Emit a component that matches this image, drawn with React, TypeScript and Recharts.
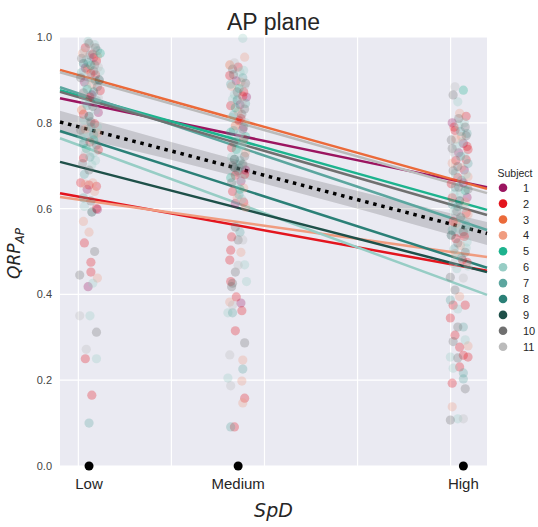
import React from 'react';
import {
  ComposedChart,
  Scatter,
  Line,
  Area,
  XAxis,
  YAxis,
  CartesianGrid,
} from 'recharts';

const SANS = '"Liberation Sans", Arial, sans-serif';
const MATH = '"DejaVu Sans", sans-serif';
const INK = '#262626';

const subjects = ['1', '2', '3', '4', '5', '6', '7', '8', '9', '10', '11'];
const subjectColors = [
  '#9b1560', '#e3151e', '#eb6a3a', '#f09c80', '#1db38e', '#97cdc5',
  '#5ca69f', '#2b8077', '#1e5049', '#707070', '#bbbbbb',
];
// fitted value of each subject's line at the left and right edge of the axis
const lineStart = [0.857, 0.636, 0.923, 0.627, 0.876, 0.764, 0.883, 0.781, 0.709, 0.872, 0.918];
const lineEnd = [0.650, 0.455, 0.646, 0.487, 0.597, 0.399, 0.550, 0.462, 0.452, 0.585, 0.636];

const categories = ['Low', 'Medium', 'High'];
const categoryX = [1.115, 2.717, 5.137];
const xDomain: [number, number] = [0.803, 5.391];
const gridX = [1, 2, 3, 4, 5];
const yTicks = [0, 0.2, 0.4, 0.6, 0.8, 1.0];

const meanStart = 0.802;
const meanEnd = 0.542;
const bandX = [0.803, 1.9, 3.0, 4.1, 5.391];
const bandLow = [0.776, 0.719, 0.658, 0.594, 0.515];
const bandHigh = [0.828, 0.761, 0.696, 0.636, 0.569];

// [jitter, QRP, subject]
const lowPoints: [number, number, number][] = [
  [0.00, 0.985, 10], [0.06, 0.982, 6], [-0.04, 0.975, 2], [0.03, 0.972, 11], [0.09, 0.968, 7],
  [-0.07, 0.962, 4], [0.01, 0.958, 10], [0.05, 0.952, 1], [-0.03, 0.947, 6], [0.08, 0.944, 2],
  [-0.06, 0.938, 8], [0.02, 0.934, 5], [0.10, 0.930, 11], [-0.02, 0.925, 3], [0.05, 0.921, 10],
  [-0.08, 0.917, 7], [0.07, 0.912, 2], [0.00, 0.905, 6], [0.11, 0.900, 9], [-0.05, 0.895, 1],
  [0.03, 0.889, 4], [0.09, 0.884, 10], [-0.02, 0.878, 5], [0.05, 0.872, 8], [-0.07, 0.866, 11],
  [0.01, 0.860, 2], [0.08, 0.852, 7], [-0.04, 0.846, 6], [0.04, 0.838, 10], [-0.08, 0.830, 3],
  [0.10, 0.824, 1], [0.00, 0.815, 9], [-0.05, 0.806, 6], [0.06, 0.798, 2], [0.02, 0.790, 7],
  [-0.09, 0.783, 10], [0.09, 0.776, 4], [-0.02, 0.768, 6], [0.05, 0.760, 5], [-0.06, 0.752, 8],
  [0.03, 0.745, 6], [0.10, 0.737, 2], [-0.04, 0.728, 11], [0.01, 0.720, 7], [0.07, 0.712, 6],
  [-0.07, 0.705, 10], [-0.01, 0.990, 6], [0.07, 0.975, 10], [-0.05, 0.968, 11], [0.12, 0.962, 5],
  [0.04, 0.960, 2], [-0.08, 0.950, 10], [0.09, 0.955, 4], [-0.01, 0.940, 7], [0.06, 0.935, 10],
  [-0.04, 0.928, 1], [0.12, 0.920, 6], [0.02, 0.915, 2], [-0.09, 0.905, 10], [0.07, 0.898, 7],
  [-0.03, 0.888, 6], [0.12, 0.875, 2], [-0.06, 0.870, 10], [0.03, 0.865, 1], [0.10, 0.858, 11],
  [-0.02, 0.840, 7], [0.07, 0.830, 6], [-0.06, 0.820, 2], [0.02, 0.802, 10], [0.09, 0.790, 6],
  [-0.04, 0.785, 4], [0.05, 0.773, 7], [-0.08, 0.765, 6], [0.01, 0.755, 2], [0.08, 0.748, 10],
  [-0.03, 0.740, 5], [0.05, 0.730, 6], [-0.06, 0.718, 2], [0.03, 0.702, 6], [0.00, 0.690, 10],
  [-0.05, 0.680, 7], [-0.09, 0.660, 2], [-0.04, 0.657, 4], [0.00, 0.655, 2], [0.04, 0.660, 4],
  [0.08, 0.652, 2], [-0.02, 0.645, 1], [0.06, 0.640, 4], [-0.06, 0.625, 7], [0.02, 0.618, 10],
  [-0.05, 0.605, 6], [0.08, 0.600, 2], [0.03, 0.592, 9], [0.09, 0.598, 1], [-0.06, 0.570, 4],
  [0.00, 0.545, 4], [-0.05, 0.520, 2], [0.06, 0.500, 10], [0.02, 0.475, 2], [-0.10, 0.445, 10],
  [0.02, 0.452, 2], [0.09, 0.438, 4], [0.04, 0.426, 6], [-0.01, 0.418, 1], [-0.10, 0.350, 11],
  [0.01, 0.350, 6], [0.08, 0.312, 10], [-0.03, 0.272, 11], [-0.04, 0.250, 2], [0.08, 0.250, 6],
  [0.03, 0.165, 2], [0.00, 0.100, 7],
];

const mediumPoints: [number, number, number][] = [
  [0.05, 0.997, 6], [0.07, 0.953, 4], [-0.09, 0.935, 3], [-0.04, 0.940, 11], [-0.06, 0.925, 10],
  [0.02, 0.918, 6], [-0.09, 0.910, 2], [0.05, 0.905, 7], [-0.02, 0.898, 1], [0.08, 0.892, 10],
  [-0.07, 0.885, 4], [0.01, 0.880, 5], [0.06, 0.872, 2], [-0.04, 0.866, 6], [0.09, 0.860, 1],
  [-0.01, 0.853, 8], [0.04, 0.846, 11], [-0.08, 0.840, 2], [0.07, 0.832, 10], [0.00, 0.826, 4],
  [-0.05, 0.818, 7], [0.03, 0.810, 2], [0.08, 0.800, 6], [-0.03, 0.793, 3], [0.05, 0.785, 1],
  [-0.08, 0.778, 5], [0.01, 0.770, 6], [0.06, 0.762, 2], [-0.05, 0.754, 10], [0.03, 0.746, 6],
  [-0.02, 0.738, 5], [0.08, 0.730, 4], [-0.07, 0.720, 6], [0.02, 0.712, 7], [0.05, 0.703, 10],
  [-0.04, 0.696, 9], [0.00, 0.688, 10], [0.07, 0.680, 2], [-0.08, 0.672, 5], [0.03, 0.664, 1],
  [-0.02, 0.655, 6], [0.06, 0.648, 4], [-0.06, 0.640, 2], [0.01, 0.632, 7], [0.04, 0.622, 6],
  [-0.03, 0.612, 1], [0.00, 0.930, 2], [0.06, 0.922, 6], [-0.05, 0.912, 10], [0.03, 0.895, 4],
  [-0.08, 0.890, 7], [0.07, 0.885, 11], [-0.01, 0.872, 10], [0.05, 0.862, 2], [-0.06, 0.855, 6],
  [0.02, 0.842, 1], [0.08, 0.845, 7], [-0.03, 0.835, 5], [0.04, 0.820, 10], [-0.07, 0.812, 6],
  [0.01, 0.805, 2], [0.06, 0.790, 10], [-0.05, 0.782, 7], [0.02, 0.775, 6], [0.08, 0.768, 5],
  [-0.02, 0.758, 7], [0.05, 0.750, 6], [-0.07, 0.742, 2], [0.00, 0.732, 6], [0.07, 0.722, 10],
  [-0.04, 0.715, 9], [0.03, 0.705, 6], [-0.06, 0.700, 10], [0.01, 0.695, 7], [0.08, 0.690, 1],
  [-0.03, 0.678, 2], [0.04, 0.670, 6], [-0.07, 0.660, 10], [0.02, 0.645, 5], [-0.01, 0.625, 4],
  [0.06, 0.615, 2], [0.08, 0.603, 4], [-0.03, 0.557, 10], [0.02, 0.545, 7], [-0.07, 0.534, 2],
  [0.00, 0.527, 10], [0.05, 0.527, 11], [-0.08, 0.503, 2], [0.03, 0.498, 4], [-0.09, 0.480, 2],
  [0.00, 0.468, 11], [0.07, 0.469, 6], [-0.03, 0.452, 10], [-0.08, 0.430, 2], [-0.06, 0.426, 10],
  [0.09, 0.430, 6], [-0.07, 0.418, 10], [-0.02, 0.394, 2], [-0.09, 0.382, 4], [-0.06, 0.375, 11],
  [0.03, 0.380, 1], [0.04, 0.362, 2], [-0.11, 0.357, 6], [-0.06, 0.357, 7], [-0.03, 0.315, 2],
  [0.07, 0.287, 10], [-0.09, 0.259, 11], [0.05, 0.247, 4], [0.05, 0.226, 7], [-0.11, 0.205, 6],
  [-0.08, 0.187, 11], [0.04, 0.198, 4], [0.07, 0.158, 2], [0.05, 0.147, 4], [-0.08, 0.091, 7],
  [-0.04, 0.091, 2],
];

const highPoints: [number, number, number][] = [
  [-0.09, 0.884, 11], [0.00, 0.876, 5], [-0.11, 0.865, 10], [-0.06, 0.849, 6], [-0.04, 0.822, 4],
  [0.03, 0.815, 2], [-0.12, 0.800, 1], [-0.05, 0.795, 6], [0.02, 0.790, 10], [-0.09, 0.782, 2],
  [0.04, 0.775, 7], [-0.02, 0.768, 4], [-0.13, 0.760, 10], [0.00, 0.752, 1], [-0.07, 0.745, 6],
  [0.05, 0.738, 2], [-0.10, 0.730, 11], [-0.03, 0.722, 7], [0.03, 0.714, 2], [-0.12, 0.706, 4],
  [-0.06, 0.698, 10], [0.01, 0.690, 1], [-0.09, 0.682, 6], [0.05, 0.674, 4], [-0.02, 0.666, 7],
  [-0.13, 0.658, 2], [-0.05, 0.650, 10], [0.02, 0.642, 5], [-0.10, 0.634, 6], [0.04, 0.626, 1],
  [-0.04, 0.618, 9], [-0.12, 0.610, 7], [0.01, 0.602, 6], [-0.07, 0.594, 10], [0.05, 0.586, 4],
  [-0.02, 0.578, 6], [-0.11, 0.570, 2], [0.03, 0.562, 7], [-0.05, 0.554, 6], [0.00, 0.546, 10],
  [-0.13, 0.538, 9], [-0.08, 0.530, 2], [0.04, 0.522, 6], [-0.03, 0.514, 4], [-0.10, 0.506, 7],
  [0.02, 0.498, 10], [-0.06, 0.490, 6], [-0.01, 0.480, 2], [-0.11, 0.472, 11], [0.05, 0.466, 6],
  [-0.05, 0.810, 10], [0.01, 0.800, 6], [-0.10, 0.790, 2], [-0.03, 0.780, 7], [0.03, 0.770, 10],
  [-0.08, 0.762, 4], [-0.01, 0.755, 6], [0.04, 0.745, 2], [-0.12, 0.740, 10], [-0.05, 0.730, 1],
  [0.01, 0.722, 6], [-0.08, 0.712, 2], [0.05, 0.705, 7], [-0.02, 0.695, 4], [-0.11, 0.688, 10],
  [0.03, 0.680, 6], [-0.06, 0.672, 2], [0.00, 0.660, 1], [-0.09, 0.650, 7], [0.05, 0.645, 10],
  [-0.03, 0.635, 6], [-0.12, 0.625, 2], [0.02, 0.615, 4], [-0.06, 0.605, 7], [-0.10, 0.595, 6],
  [0.03, 0.590, 2], [-0.03, 0.580, 10], [-0.08, 0.565, 4], [0.05, 0.555, 6], [-0.12, 0.550, 7],
  [0.01, 0.535, 2], [-0.06, 0.520, 10], [0.03, 0.508, 6], [-0.09, 0.495, 4], [-0.02, 0.485, 7],
  [0.04, 0.475, 2], [-0.07, 0.460, 6], [-0.14, 0.440, 10], [0.00, 0.438, 11], [-0.09, 0.410, 10],
  [-0.14, 0.387, 7], [-0.04, 0.395, 4], [0.02, 0.375, 2], [-0.11, 0.375, 2], [-0.06, 0.366, 6],
  [-0.14, 0.345, 2], [0.00, 0.324, 7], [-0.06, 0.324, 10], [-0.09, 0.305, 2], [0.02, 0.294, 6],
  [-0.11, 0.290, 10], [-0.04, 0.277, 2], [0.05, 0.280, 4], [-0.14, 0.254, 6], [0.00, 0.258, 2],
  [0.05, 0.254, 2], [-0.06, 0.252, 10], [-0.11, 0.228, 6], [-0.04, 0.231, 2], [0.00, 0.217, 7],
  [0.00, 0.203, 7], [-0.12, 0.193, 2], [0.02, 0.180, 10], [-0.12, 0.138, 4], [-0.14, 0.107, 10],
  [-0.06, 0.110, 6], [0.00, 0.110, 11],
];

const clusters = [lowPoints, mediumPoints, highPoints];

const pointsBySubject = subjects.map((_, i) =>
  clusters.flatMap((pts, c) =>
    pts.filter((p) => p[2] === i + 1).map((p) => ({ x: categoryX[c] + p[0], y: p[1] })),
  ),
);

const bandData = bandX.map((x, i) => ({ x, band: [bandLow[i], bandHigh[i]] }));
const meanData = [
  { x: xDomain[0], y: meanStart },
  { x: xDomain[1], y: meanEnd },
];
const markerData = categoryX.map((x) => ({ x, y: 0 }));

function YLabel({ viewBox }: any) {
  const cx = viewBox.x + 20;
  const cy = viewBox.y + viewBox.height / 2 + 2;
  return (
    <text
      x={cx}
      y={cy}
      transform={`rotate(-90, ${cx}, ${cy})`}
      textAnchor="middle"
      fontFamily={MATH}
      fontStyle="italic"
      fontSize={17}
      fill={INK}
    >
      <tspan>QRP</tspan>
      <tspan fontSize={12} dy={4}>AP</tspan>
    </text>
  );
}

function XLabel({ viewBox }: any) {
  return (
    <text
      x={viewBox.x + viewBox.width / 2}
      y={viewBox.y + 51}
      textAnchor="middle"
      fontFamily={MATH}
      fontStyle="italic"
      fontSize={19}
      fill={INK}
    >
      SpD
    </text>
  );
}

export default function App() {
  return (
    <div style={{ position: 'absolute', left: 0, top: 0, width: 538, height: 527, background: '#fff' }}>
      <ComposedChart
        width={538}
        height={527}
        data={bandData}
        margin={{ top: 37, right: 51, bottom: 0, left: 0 }}
      >
        <CartesianGrid
          verticalValues={gridX}
          stroke="#fff"
          strokeWidth={1.2}
          fill="#eaeaf2"
          fillOpacity={1}
        />
        <XAxis
          dataKey="x"
          type="number"
          domain={xDomain}
          ticks={categoryX}
          interval={0}
          tickFormatter={(v: number) => categories[categoryX.indexOf(v)] ?? ''}
          axisLine={false}
          tickLine={false}
          tickSize={0}
          tickMargin={12}
          height={61}
          tick={{ fontSize: 15, fill: INK, fontFamily: SANS }}
          label={{ content: XLabel }}
        />
        <YAxis
          type="number"
          domain={[0, 1]}
          ticks={yTicks}
          tickFormatter={(v: number) => v.toFixed(1)}
          axisLine={false}
          tickLine={false}
          tickSize={0}
          tickMargin={8}
          width={60}
          tick={{ fontSize: 11, fill: '#444', fontFamily: SANS }}
          label={{ content: YLabel }}
        />

        {pointsBySubject.map((pts, i) => (
          <Scatter
            key={`pts-${subjects[i]}`}
            data={pts}
            dataKey="y"
            isAnimationActive={false}
            shape={(p: any) => (
              <circle cx={p.cx} cy={p.cy} r={4.6} fill={subjectColors[i]} fillOpacity={0.3} />
            )}
          />
        ))}

        {subjects.map((s, i) => (
          <Line
            key={`fit-${s}`}
            data={[
              { x: xDomain[0], y: lineStart[i] },
              { x: xDomain[1], y: lineEnd[i] },
            ]}
            dataKey="y"
            type="linear"
            stroke={subjectColors[i]}
            strokeWidth={2.5}
            dot={false}
            activeDot={false}
            isAnimationActive={false}
          />
        ))}

        <Area
          dataKey="band"
          type="linear"
          stroke="none"
          fill="#000"
          fillOpacity={0.15}
          isAnimationActive={false}
        />
        <Line
          data={meanData}
          dataKey="y"
          type="linear"
          stroke="#000"
          strokeWidth={3.5}
          strokeDasharray="3.5 4.8"
          dot={false}
          activeDot={false}
          isAnimationActive={false}
        />

        <Scatter
          data={markerData}
          dataKey="y"
          isAnimationActive={false}
          shape={(p: any) => <circle cx={p.cx} cy={p.cy} r={4.5} fill="#000" />}
        />
      </ComposedChart>

      <svg
        width={538}
        height={527}
        style={{ position: 'absolute', left: 0, top: 0, pointerEvents: 'none' }}
      >
        <text x={273.5} y={29.5} textAnchor="middle" fontFamily={SANS} fontSize={23} fill={INK}>
          AP plane
        </text>
        <text x={515} y={176.5} textAnchor="middle" fontFamily={SANS} fontSize={10.5} fill={INK}>
          Subject
        </text>
        {subjects.map((s, i) => (
          <g key={`leg-${s}`}>
            <circle cx={503} cy={187.7 + i * 15.9} r={4.3} fill={subjectColors[i]} />
            <text x={523} y={191.7 + i * 15.9} fontFamily={SANS} fontSize={11} fill={INK}>
              {s}
            </text>
          </g>
        ))}
      </svg>
    </div>
  );
}
